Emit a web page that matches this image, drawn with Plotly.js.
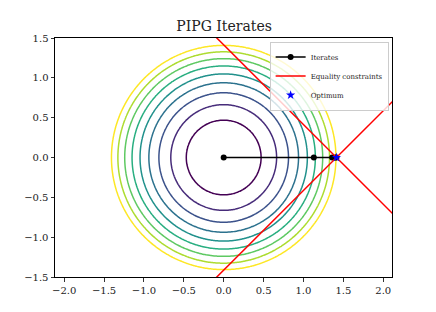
<!DOCTYPE html>
<html>
<head>
<meta charset="utf-8">
<script src="https://cdn.plot.ly/plotly-3.0.1.min.js"></script>
<style>html,body{margin:0;padding:0;background:#fff;}#chart{width:436px;height:312px;}</style>
</head>
<body>
<div id="chart"></div>
<script>
// Contour levels of f(x,y) = x^2 + y^2
const contourLevels = [0.22, 0.44, 0.66, 0.88, 1.10, 1.32, 1.54, 1.76, 1.98];
// PIPG iterates
const iterX = [0, 1.13, 1.36, 1.40, 1.414];
const iterY = [0, 0, 0, 0, 0];
// Optimum
const optX = [1.414];
const optY = [0];
// Equality constraint lines (two segments separated by null)
const conX = [-0.2, 2.3, null, -0.2, 2.3];
const conY = [1.614, -0.886, null, -1.614, 0.886];

// objective on a grid for contour
const gx = [], gy = [];
for (let i = 0; i <= 220; i++) gx.push(-2.2 + i * 0.02);
for (let j = 0; j <= 170; j++) gy.push(-1.7 + j * 0.02);
const gz = gy.map(y => gx.map(x => x * x + y * y));

const viridis = [
  [0, '#440154'], [0.125, '#472c7a'], [0.25, '#3b528b'], [0.375, '#2c728e'],
  [0.5, '#21918c'], [0.625, '#28ae80'], [0.75, '#5ec962'], [0.875, '#addc30'], [1, '#fde725']
];

const serif = 'DejaVu Serif, Liberation Serif, serif';

const data = [
  {
    type: 'contour', x: gx, y: gy, z: gz,
    contours: {coloring: 'lines', start: contourLevels[0], end: contourLevels[contourLevels.length - 1], size: 0.22},
    colorscale: viridis, zauto: false, zmin: contourLevels[0], zmax: contourLevels[contourLevels.length - 1],
    line: {width: 1.5, smoothing: 1}, showscale: false, showlegend: false, hoverinfo: 'skip'
  },
  {
    type: 'scatter', mode: 'lines+markers', x: iterX, y: iterY, name: 'Iterates',
    line: {color: 'black', width: 1.5}, marker: {color: 'black', size: 6}
  },
  {
    type: 'scatter', mode: 'lines', x: conX, y: conY, name: 'Equality constraints',
    line: {color: 'red', width: 1.5}
  },
  {
    type: 'scatter', mode: 'markers', x: optX, y: optY, name: 'Optimum',
    marker: {color: 'blue', size: 7, symbol: 'star'}
  }
];

const axisCommon = {
  showgrid: false, zeroline: false, showline: true, mirror: true,
  linecolor: 'black', linewidth: 1, ticks: 'outside', ticklen: 3.5, tickwidth: 0.8,
  tickcolor: 'black', tickfont: {family: serif, size: 10, color: '#222'}
};

const layout = {
  width: 436, height: 312,
  margin: {l: 55, r: 44, t: 38, b: 35},
  paper_bgcolor: 'white', plot_bgcolor: 'white',
  title: {text: 'PIPG Iterates', font: {family: serif, size: 14, color: '#222'}, x: 0.514, xanchor: 'center', y: 0.915, yanchor: 'middle'},
  xaxis: Object.assign({}, axisCommon, {range: [-2.115, 2.11], tickmode: 'array', tickvals: [-2, -1.5, -1, -0.5, 0, 0.5, 1, 1.5, 2], ticktext: ['−2.0','−1.5','−1.0','−0.5','0.0','0.5','1.0','1.5','2.0']}),
  yaxis: Object.assign({}, axisCommon, {range: [-1.5, 1.5], tickmode: 'array', tickvals: [-1.5, -1, -0.5, 0, 0.5, 1, 1.5], ticktext: ['−1.5','−1.0','−0.5','0.0','0.5','1.0','1.5']}),
  showlegend: true,
  legend: {
    x: 0.99, y: 0.985, xanchor: 'right', yanchor: 'top',
    bgcolor: 'rgba(255,255,255,0.8)', bordercolor: '#cccccc', borderwidth: 1,
    font: {family: serif, size: 7, color: '#222'}, itemwidth: 30, tracegroupgap: 0
  }
};

Plotly.newPlot('chart', data, layout, {staticPlot: true, displayModeBar: false});
</script>
</body>
</html>
